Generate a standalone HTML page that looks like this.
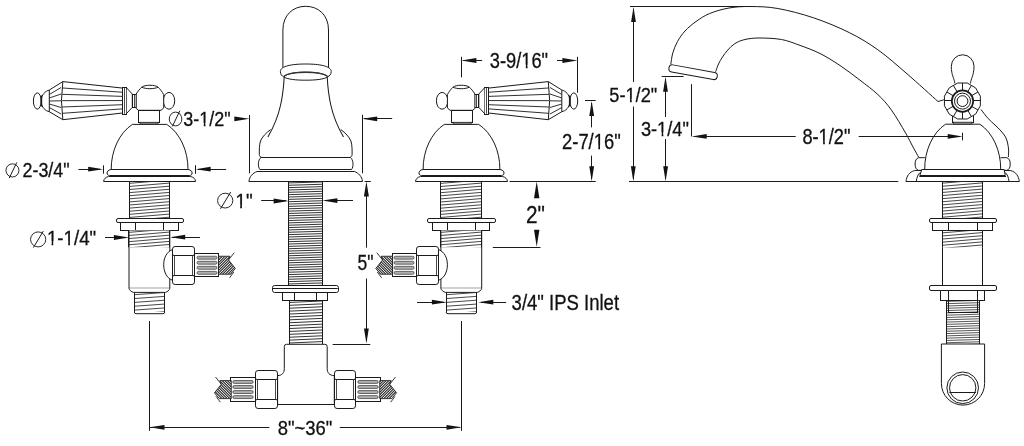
<!DOCTYPE html>
<html><head><meta charset="utf-8"><style>
html,body{margin:0;padding:0;background:#fff;width:1024px;height:446px;overflow:hidden}
svg{display:block;will-change:transform}
text{font-family:"Liberation Sans",sans-serif;fill:#111;stroke:#111;stroke-width:0.3px;font-kerning:none}
</style></head><body>
<svg width="1024" height="446" viewBox="0 0 1024 446">
<rect width="1024" height="446" fill="#fff"/>
<ellipse cx="37.3" cy="101" rx="3.9" ry="8.1" stroke="#1a1a1a" stroke-width="1" fill="#fff"/>
<path d="M49.3,90 C45.6,91 41.2,94.5 41.2,101 C41.2,107.5 45.6,111 49.3,111.7" stroke="#1a1a1a" stroke-width="1" fill="#fff" />
<line x1="41.4" y1="95.5" x2="41.4" y2="106.5" stroke="#1a1a1a" stroke-width="1.6"/>
<path d="M49.3,90 L62.8,81.6 L122.7,88.1 L122.7,113 L62.8,119.7 L49.3,111.7 Z" stroke="#1a1a1a" stroke-width="1" fill="#fff" />
<path d="M62.8,81.6 Q60.1,100.6 62.8,119.7" stroke="#1a1a1a" stroke-width="1" fill="none" />
<line x1="49.3" y1="94.5" x2="61.1" y2="87.5" stroke="#1a1a1a" stroke-width="0.9"/>
<line x1="49.3" y1="98" x2="61.1" y2="94" stroke="#1a1a1a" stroke-width="0.9"/>
<line x1="49.3" y1="101" x2="61.1" y2="100.8" stroke="#1a1a1a" stroke-width="0.9"/>
<line x1="49.3" y1="104" x2="61.1" y2="107.5" stroke="#1a1a1a" stroke-width="0.9"/>
<line x1="49.3" y1="107.5" x2="61.1" y2="114" stroke="#1a1a1a" stroke-width="0.9"/>
<line x1="62.1" y1="87.95" x2="122.7" y2="92.25" stroke="#1a1a1a" stroke-width="0.9"/>
<line x1="62.1" y1="94.3" x2="122.7" y2="96.4" stroke="#1a1a1a" stroke-width="0.9"/>
<line x1="62.1" y1="100.65" x2="122.7" y2="100.55" stroke="#1a1a1a" stroke-width="0.9"/>
<line x1="62.1" y1="107" x2="122.7" y2="104.7" stroke="#1a1a1a" stroke-width="0.9"/>
<line x1="62.1" y1="113.35" x2="122.7" y2="108.85" stroke="#1a1a1a" stroke-width="0.9"/>
<rect x="122.5" y="87.5" width="4" height="27" rx="0" stroke="#1a1a1a" stroke-width="1" fill="#fff"/>
<line x1="124.5" y1="87.6" x2="124.5" y2="113.7" stroke="#1a1a1a" stroke-width="0.8"/>
<path d="M126.7,88 L132.3,94 L132.3,107.4 L126.7,113.3" stroke="#1a1a1a" stroke-width="1" fill="#fff" />
<rect x="132.5" y="94.5" width="4" height="13" rx="0" stroke="#1a1a1a" stroke-width="1" fill="#fff"/>
<line x1="134.5" y1="94.3" x2="134.5" y2="107.1" stroke="#1a1a1a" stroke-width="0.8"/>
<ellipse cx="169" cy="100.8" rx="5.7" ry="8.4" stroke="#1a1a1a" stroke-width="1" fill="#fff"/>
<path d="M136.2,108.4 L136.2,94 C137.6,91.5 140.1,88.6 141.8,87.2 C144.6,84.6 155.1,84.6 158.1,87.2 C159.9,88.8 162.4,92 163.7,94.6 L163.7,108 L161,110.3 L138.5,110.3 Z" stroke="#1a1a1a" stroke-width="1" fill="#fff" />
<path d="M141.8,87.2 C145.6,89.2 154.1,89.2 158.1,87.2" stroke="#1a1a1a" stroke-width="1" fill="none" />
<rect x="138.5" y="110.5" width="21" height="12" rx="0" stroke="#1a1a1a" stroke-width="1" fill="#fff"/>
<rect x="140" y="122.2" width="18" height="2.2" rx="0" stroke="#1a1a1a" stroke-width="0.6" fill="#888"/>
<path d="M132.4,124.4 L166.8,124.4 A38.4,50.3 0 0,1 188,169.5 L111.2,169.5 A38.4,50.3 0 0,1 132.4,124.4 Z" stroke="#1a1a1a" stroke-width="1" fill="#fff" />
<path d="M111,169.5 L188.2,169.5 C191.1,170 192.1,171.5 192.1,173 C192.1,174.6 191.1,175.5 189.6,175.5 L109.6,175.5 C108.1,175.5 107.1,174.6 107.1,173 C107.1,171.5 108.1,170 111,169.5 Z" stroke="#1a1a1a" stroke-width="1" fill="#fff" />
<path d="M108.6,176.5 L190.6,176.5 C193.6,177.2 195.4,179 195.6,181.5 L103.6,181.5 C103.8,179 105.6,177.2 108.6,176.5 Z" stroke="#1a1a1a" stroke-width="1" fill="#fff" />
<g><clipPath id="c28"><rect x="129.1" y="181.5" width="40.7" height="36.5"/></clipPath></g>
<g clip-path="url(#c28)" stroke="#333" stroke-width="0.9"><line x1="129.1" y1="183.36" x2="169.8" y2="179.96"/><line x1="129.1" y1="186.46" x2="169.8" y2="183.06"/><line x1="129.1" y1="189.56" x2="169.8" y2="186.16"/><line x1="129.1" y1="192.66" x2="169.8" y2="189.26"/><line x1="129.1" y1="195.76" x2="169.8" y2="192.36"/><line x1="129.1" y1="198.86" x2="169.8" y2="195.46"/><line x1="129.1" y1="201.96" x2="169.8" y2="198.56"/><line x1="129.1" y1="205.06" x2="169.8" y2="201.66"/><line x1="129.1" y1="208.16" x2="169.8" y2="204.76"/><line x1="129.1" y1="211.26" x2="169.8" y2="207.86"/><line x1="129.1" y1="214.36" x2="169.8" y2="210.96"/><line x1="129.1" y1="217.46" x2="169.8" y2="214.06"/><line x1="129.1" y1="220.56" x2="169.8" y2="217.16"/><line x1="129.1" y1="223.66" x2="169.8" y2="220.26"/></g>
<line x1="129.5" y1="181.5" x2="129.5" y2="218" stroke="#1a1a1a" stroke-width="1"/>
<line x1="169.5" y1="181.5" x2="169.5" y2="218" stroke="#1a1a1a" stroke-width="1"/>
<rect x="116.5" y="218.5" width="67" height="4" rx="1.5" stroke="#1a1a1a" stroke-width="1" fill="#fff"/>
<rect x="120.5" y="222.5" width="58" height="8" rx="0" stroke="#1a1a1a" stroke-width="1" fill="#fff"/>
<line x1="135.5" y1="222" x2="135.5" y2="230.5" stroke="#1a1a1a" stroke-width="1"/>
<line x1="163.5" y1="222" x2="163.5" y2="230.5" stroke="#1a1a1a" stroke-width="1"/>
<path d="M129,230.5 L129,288.3 L169.8,288.3 L169.8,230.5" stroke="#1a1a1a" stroke-width="1" fill="#fff" />
<path d="M129,288.3 C129.2,290.2 131.6,291.8 133.4,292.4 L165.4,292.4 C167.2,291.8 169.6,290.2 169.8,288.3" stroke="#1a1a1a" stroke-width="1" fill="#fff" />
<g><clipPath id="c38"><rect x="129" y="230.5" width="40.8" height="16.7"/></clipPath></g>
<g clip-path="url(#c38)" stroke="#333" stroke-width="0.9"><line x1="129" y1="232.36" x2="169.8" y2="228.96"/><line x1="129" y1="235.46" x2="169.8" y2="232.06"/><line x1="129" y1="238.56" x2="169.8" y2="235.16"/><line x1="129" y1="241.66" x2="169.8" y2="238.26"/><line x1="129" y1="244.76" x2="169.8" y2="241.36"/><line x1="129" y1="247.86" x2="169.8" y2="244.46"/><line x1="129" y1="250.96" x2="169.8" y2="247.56"/></g>
<line x1="128.5" y1="230.5" x2="128.5" y2="247.2" stroke="#1a1a1a" stroke-width="1"/>
<line x1="169.5" y1="230.5" x2="169.5" y2="247.2" stroke="#1a1a1a" stroke-width="1"/>
<g><clipPath id="c42"><rect x="134.3" y="292.4" width="30.4" height="20.1"/></clipPath></g>
<g clip-path="url(#c42)" stroke="#333" stroke-width="0.9"><line x1="134.3" y1="294.71" x2="164.7" y2="292.51"/><line x1="134.3" y1="298.56" x2="164.7" y2="296.36"/><line x1="134.3" y1="302.41" x2="164.7" y2="300.21"/><line x1="134.3" y1="306.26" x2="164.7" y2="304.06"/><line x1="134.3" y1="310.11" x2="164.7" y2="307.91"/><line x1="134.3" y1="313.96" x2="164.7" y2="311.76"/><line x1="134.3" y1="317.81" x2="164.7" y2="315.61"/></g>
<line x1="134.5" y1="292.4" x2="134.5" y2="312.5" stroke="#1a1a1a" stroke-width="1"/>
<line x1="164.5" y1="292.4" x2="164.5" y2="312.5" stroke="#1a1a1a" stroke-width="1"/>
<path d="M134.3,312 Q134.3,313.7 136.1,313.7 L162.9,313.7 Q164.7,313.7 164.7,312" stroke="#1a1a1a" stroke-width="1" fill="#fff" />
<path d="M172,249.8 C166.6,252 163.7,258 163.7,264.8 C163.7,271.5 166.6,278 172,280" stroke="#1a1a1a" stroke-width="1" fill="#fff" />
<rect x="172.5" y="246.5" width="22" height="38" rx="2.6" stroke="#1a1a1a" stroke-width="1" fill="#fff"/>
<path d="M172.5,254.2 Q172.8,255.5 174,255.5 L193,255.5 Q194.2,255.5 194.5,254.2 M172.5,276.8 Q172.8,275.5 174,275.5 L193,275.5 Q194.2,275.5 194.5,276.8" stroke="#1a1a1a" stroke-width="1" fill="none" />
<path d="M174.5,255.5 L174.5,275.5 M192.5,255.5 L192.5,275.5" stroke="#333" stroke-width="0.9" fill="none" />
<rect x="194.5" y="253.5" width="24" height="23" rx="0" stroke="#1a1a1a" stroke-width="1" fill="#fff"/>
<rect x="197" y="256.25" width="20" height="2.9" rx="1.45" fill="#b0b0b0" stroke="#333" stroke-width="0.7"/>
<rect x="197" y="261.3" width="20" height="2.9" rx="1.45" fill="#b0b0b0" stroke="#333" stroke-width="0.7"/>
<rect x="197" y="266.35" width="20" height="2.9" rx="1.45" fill="#b0b0b0" stroke="#333" stroke-width="0.7"/>
<rect x="197" y="271.4" width="20" height="2.9" rx="1.45" fill="#b0b0b0" stroke="#333" stroke-width="0.7"/>
<clipPath id="br56"><path d="M218.5,256.25 L230,256.25 L228.5,259.95 L235.3,268.45 L230.6,274.25 L218.5,274.25 Z"/></clipPath>
<g clip-path="url(#br56)"><rect x="219" y="256.25" width="17" height="18" fill="#383838"/><g stroke="#fff" stroke-width="0.95"><line x1="192.2" y1="274.75" x2="211.2" y2="255.75"/><line x1="194.8" y1="274.75" x2="213.8" y2="255.75"/><line x1="197.4" y1="274.75" x2="216.4" y2="255.75"/><line x1="200" y1="274.75" x2="219" y2="255.75"/><line x1="202.6" y1="274.75" x2="221.6" y2="255.75"/><line x1="205.2" y1="274.75" x2="224.2" y2="255.75"/><line x1="207.8" y1="274.75" x2="226.8" y2="255.75"/><line x1="210.4" y1="274.75" x2="229.4" y2="255.75"/><line x1="213" y1="274.75" x2="232" y2="255.75"/><line x1="215.6" y1="274.75" x2="234.6" y2="255.75"/><line x1="218.2" y1="274.75" x2="237.2" y2="255.75"/><line x1="220.8" y1="274.75" x2="239.8" y2="255.75"/><line x1="223.4" y1="274.75" x2="242.4" y2="255.75"/><line x1="226" y1="274.75" x2="245" y2="255.75"/><line x1="228.6" y1="274.75" x2="247.6" y2="255.75"/><line x1="231.2" y1="274.75" x2="250.2" y2="255.75"/><line x1="233.8" y1="274.75" x2="252.8" y2="255.75"/><line x1="236.4" y1="274.75" x2="255.4" y2="255.75"/><line x1="239" y1="274.75" x2="258" y2="255.75"/><line x1="241.6" y1="274.75" x2="260.6" y2="255.75"/><line x1="244.2" y1="274.75" x2="263.2" y2="255.75"/><line x1="246.8" y1="274.75" x2="265.8" y2="255.75"/><line x1="249.4" y1="274.75" x2="268.4" y2="255.75"/><line x1="252" y1="274.75" x2="271" y2="255.75"/></g></g>
<path d="M218.5,256.25 L230,256.25 L228.5,259.95 L235.3,268.45 L230.6,274.25 L218.5,274.25 Z" stroke="#222" stroke-width="0.9" fill="none" />
<path d="M234.3,252.65 L228.5,259.95 M233.8,272.05 L229.5,277.85" stroke="#222" stroke-width="0.9" fill="none" />
<ellipse cx="573.8" cy="101" rx="3.9" ry="8.1" stroke="#1a1a1a" stroke-width="1" fill="#fff"/>
<path d="M561.8,90 C565.5,91 569.9,94.5 569.9,101 C569.9,107.5 565.5,111 561.8,111.7" stroke="#1a1a1a" stroke-width="1" fill="#fff" />
<line x1="569.7" y1="95.5" x2="569.7" y2="106.5" stroke="#1a1a1a" stroke-width="1.6"/>
<path d="M561.8,90 L548.3,81.6 L488.4,88.1 L488.4,113 L548.3,119.7 L561.8,111.7 Z" stroke="#1a1a1a" stroke-width="1" fill="#fff" />
<path d="M548.3,81.6 Q551,100.6 548.3,119.7" stroke="#1a1a1a" stroke-width="1" fill="none" />
<line x1="561.8" y1="94.5" x2="550" y2="87.5" stroke="#1a1a1a" stroke-width="0.9"/>
<line x1="561.8" y1="98" x2="550" y2="94" stroke="#1a1a1a" stroke-width="0.9"/>
<line x1="561.8" y1="101" x2="550" y2="100.8" stroke="#1a1a1a" stroke-width="0.9"/>
<line x1="561.8" y1="104" x2="550" y2="107.5" stroke="#1a1a1a" stroke-width="0.9"/>
<line x1="561.8" y1="107.5" x2="550" y2="114" stroke="#1a1a1a" stroke-width="0.9"/>
<line x1="549" y1="87.95" x2="488.4" y2="92.25" stroke="#1a1a1a" stroke-width="0.9"/>
<line x1="549" y1="94.3" x2="488.4" y2="96.4" stroke="#1a1a1a" stroke-width="0.9"/>
<line x1="549" y1="100.65" x2="488.4" y2="100.55" stroke="#1a1a1a" stroke-width="0.9"/>
<line x1="549" y1="107" x2="488.4" y2="104.7" stroke="#1a1a1a" stroke-width="0.9"/>
<line x1="549" y1="113.35" x2="488.4" y2="108.85" stroke="#1a1a1a" stroke-width="0.9"/>
<rect x="484.5" y="87.5" width="4" height="27" rx="0" stroke="#1a1a1a" stroke-width="1" fill="#fff"/>
<line x1="486.5" y1="87.6" x2="486.5" y2="113.7" stroke="#1a1a1a" stroke-width="0.8"/>
<path d="M484.4,88 L478.8,94 L478.8,107.4 L484.4,113.3" stroke="#1a1a1a" stroke-width="1" fill="#fff" />
<rect x="474.5" y="94.5" width="4" height="13" rx="0" stroke="#1a1a1a" stroke-width="1" fill="#fff"/>
<line x1="476.5" y1="94.3" x2="476.5" y2="107.1" stroke="#1a1a1a" stroke-width="0.8"/>
<ellipse cx="442.1" cy="100.8" rx="5.7" ry="8.4" stroke="#1a1a1a" stroke-width="1" fill="#fff"/>
<path d="M474.9,108.4 L474.9,94 C473.5,91.5 471,88.6 469.3,87.2 C466.5,84.6 456,84.6 453,87.2 C451.2,88.8 448.7,92 447.4,94.6 L447.4,108 L450.1,110.3 L472.6,110.3 Z" stroke="#1a1a1a" stroke-width="1" fill="#fff" />
<path d="M469.3,87.2 C465.5,89.2 457,89.2 453,87.2" stroke="#1a1a1a" stroke-width="1" fill="none" />
<rect x="451.5" y="110.5" width="21" height="12" rx="0" stroke="#1a1a1a" stroke-width="1" fill="#fff"/>
<rect x="453.1" y="122.2" width="18" height="2.2" rx="0" stroke="#1a1a1a" stroke-width="0.6" fill="#888"/>
<path d="M444.3,124.4 L478.7,124.4 A38.4,50.3 0 0,1 499.9,169.5 L423.1,169.5 A38.4,50.3 0 0,1 444.3,124.4 Z" stroke="#1a1a1a" stroke-width="1" fill="#fff" />
<path d="M422.9,169.5 L500.1,169.5 C503,170 504,171.5 504,173 C504,174.6 503,175.5 501.5,175.5 L421.5,175.5 C420,175.5 419,174.6 419,173 C419,171.5 420,170 422.9,169.5 Z" stroke="#1a1a1a" stroke-width="1" fill="#fff" />
<path d="M420.5,176.5 L502.5,176.5 C505.5,177.2 507.3,179 507.5,181.5 L415.5,181.5 C415.7,179 417.5,177.2 420.5,176.5 Z" stroke="#1a1a1a" stroke-width="1" fill="#fff" />
<g><clipPath id="c88"><rect x="441" y="181.5" width="40.7" height="36.5"/></clipPath></g>
<g clip-path="url(#c88)" stroke="#333" stroke-width="0.9"><line x1="441" y1="183.36" x2="481.7" y2="179.96"/><line x1="441" y1="186.46" x2="481.7" y2="183.06"/><line x1="441" y1="189.56" x2="481.7" y2="186.16"/><line x1="441" y1="192.66" x2="481.7" y2="189.26"/><line x1="441" y1="195.76" x2="481.7" y2="192.36"/><line x1="441" y1="198.86" x2="481.7" y2="195.46"/><line x1="441" y1="201.96" x2="481.7" y2="198.56"/><line x1="441" y1="205.06" x2="481.7" y2="201.66"/><line x1="441" y1="208.16" x2="481.7" y2="204.76"/><line x1="441" y1="211.26" x2="481.7" y2="207.86"/><line x1="441" y1="214.36" x2="481.7" y2="210.96"/><line x1="441" y1="217.46" x2="481.7" y2="214.06"/><line x1="441" y1="220.56" x2="481.7" y2="217.16"/><line x1="441" y1="223.66" x2="481.7" y2="220.26"/></g>
<line x1="440.5" y1="181.5" x2="440.5" y2="218" stroke="#1a1a1a" stroke-width="1"/>
<line x1="481.5" y1="181.5" x2="481.5" y2="218" stroke="#1a1a1a" stroke-width="1"/>
<rect x="427.5" y="218.5" width="68" height="4" rx="1.5" stroke="#1a1a1a" stroke-width="1" fill="#fff"/>
<rect x="432.5" y="222.5" width="57" height="8" rx="0" stroke="#1a1a1a" stroke-width="1" fill="#fff"/>
<line x1="447.5" y1="222" x2="447.5" y2="230.5" stroke="#1a1a1a" stroke-width="1"/>
<line x1="475.5" y1="222" x2="475.5" y2="230.5" stroke="#1a1a1a" stroke-width="1"/>
<path d="M440.9,230.5 L440.9,288.3 L481.7,288.3 L481.7,230.5" stroke="#1a1a1a" stroke-width="1" fill="#fff" />
<path d="M440.9,288.3 C441.1,290.2 443.5,291.8 445.3,292.4 L477.3,292.4 C479.1,291.8 481.5,290.2 481.7,288.3" stroke="#1a1a1a" stroke-width="1" fill="#fff" />
<g><clipPath id="c98"><rect x="440.9" y="230.5" width="40.8" height="16.7"/></clipPath></g>
<g clip-path="url(#c98)" stroke="#333" stroke-width="0.9"><line x1="440.9" y1="232.36" x2="481.7" y2="228.96"/><line x1="440.9" y1="235.46" x2="481.7" y2="232.06"/><line x1="440.9" y1="238.56" x2="481.7" y2="235.16"/><line x1="440.9" y1="241.66" x2="481.7" y2="238.26"/><line x1="440.9" y1="244.76" x2="481.7" y2="241.36"/><line x1="440.9" y1="247.86" x2="481.7" y2="244.46"/><line x1="440.9" y1="250.96" x2="481.7" y2="247.56"/></g>
<line x1="440.5" y1="230.5" x2="440.5" y2="247.2" stroke="#1a1a1a" stroke-width="1"/>
<line x1="481.5" y1="230.5" x2="481.5" y2="247.2" stroke="#1a1a1a" stroke-width="1"/>
<g><clipPath id="c102"><rect x="446.2" y="292.4" width="30.4" height="20.1"/></clipPath></g>
<g clip-path="url(#c102)" stroke="#333" stroke-width="0.9"><line x1="446.2" y1="294.71" x2="476.6" y2="292.51"/><line x1="446.2" y1="298.56" x2="476.6" y2="296.36"/><line x1="446.2" y1="302.41" x2="476.6" y2="300.21"/><line x1="446.2" y1="306.26" x2="476.6" y2="304.06"/><line x1="446.2" y1="310.11" x2="476.6" y2="307.91"/><line x1="446.2" y1="313.96" x2="476.6" y2="311.76"/><line x1="446.2" y1="317.81" x2="476.6" y2="315.61"/></g>
<line x1="446.5" y1="292.4" x2="446.5" y2="312.5" stroke="#1a1a1a" stroke-width="1"/>
<line x1="476.5" y1="292.4" x2="476.5" y2="312.5" stroke="#1a1a1a" stroke-width="1"/>
<path d="M446.2,312 Q446.2,313.7 448,313.7 L474.8,313.7 Q476.6,313.7 476.6,312" stroke="#1a1a1a" stroke-width="1" fill="#fff" />
<path d="M439.1,249.8 C444.5,252 447.4,258 447.4,264.8 C447.4,271.5 444.5,278 439.1,280" stroke="#1a1a1a" stroke-width="1" fill="#fff" />
<rect x="416.5" y="246.5" width="22" height="38" rx="2.6" stroke="#1a1a1a" stroke-width="1" fill="#fff"/>
<path d="M416.5,254.2 Q416.8,255.5 418,255.5 L437,255.5 Q438.2,255.5 438.5,254.2 M416.5,276.8 Q416.8,275.5 418,275.5 L437,275.5 Q438.2,275.5 438.5,276.8" stroke="#1a1a1a" stroke-width="1" fill="none" />
<path d="M418.5,255.5 L418.5,275.5 M436.5,255.5 L436.5,275.5" stroke="#333" stroke-width="0.9" fill="none" />
<rect x="392.5" y="253.5" width="24" height="23" rx="0" stroke="#1a1a1a" stroke-width="1" fill="#fff"/>
<rect x="394.1" y="256.25" width="20" height="2.9" rx="1.45" fill="#b0b0b0" stroke="#333" stroke-width="0.7"/>
<rect x="394.1" y="261.3" width="20" height="2.9" rx="1.45" fill="#b0b0b0" stroke="#333" stroke-width="0.7"/>
<rect x="394.1" y="266.35" width="20" height="2.9" rx="1.45" fill="#b0b0b0" stroke="#333" stroke-width="0.7"/>
<rect x="394.1" y="271.4" width="20" height="2.9" rx="1.45" fill="#b0b0b0" stroke="#333" stroke-width="0.7"/>
<clipPath id="br116"><path d="M392.6,256.25 L381.1,256.25 L382.6,259.95 L375.8,268.45 L380.5,274.25 L392.6,274.25 Z"/></clipPath>
<g clip-path="url(#br116)"><rect x="375.1" y="256.25" width="17" height="18" fill="#383838"/><g stroke="#fff" stroke-width="0.95"><line x1="418.9" y1="274.75" x2="399.9" y2="255.75"/><line x1="416.3" y1="274.75" x2="397.3" y2="255.75"/><line x1="413.7" y1="274.75" x2="394.7" y2="255.75"/><line x1="411.1" y1="274.75" x2="392.1" y2="255.75"/><line x1="408.5" y1="274.75" x2="389.5" y2="255.75"/><line x1="405.9" y1="274.75" x2="386.9" y2="255.75"/><line x1="403.3" y1="274.75" x2="384.3" y2="255.75"/><line x1="400.7" y1="274.75" x2="381.7" y2="255.75"/><line x1="398.1" y1="274.75" x2="379.1" y2="255.75"/><line x1="395.5" y1="274.75" x2="376.5" y2="255.75"/><line x1="392.9" y1="274.75" x2="373.9" y2="255.75"/><line x1="390.3" y1="274.75" x2="371.3" y2="255.75"/><line x1="387.7" y1="274.75" x2="368.7" y2="255.75"/><line x1="385.1" y1="274.75" x2="366.1" y2="255.75"/><line x1="382.5" y1="274.75" x2="363.5" y2="255.75"/><line x1="379.9" y1="274.75" x2="360.9" y2="255.75"/><line x1="377.3" y1="274.75" x2="358.3" y2="255.75"/><line x1="374.7" y1="274.75" x2="355.7" y2="255.75"/><line x1="372.1" y1="274.75" x2="353.1" y2="255.75"/><line x1="369.5" y1="274.75" x2="350.5" y2="255.75"/><line x1="366.9" y1="274.75" x2="347.9" y2="255.75"/><line x1="364.3" y1="274.75" x2="345.3" y2="255.75"/><line x1="361.7" y1="274.75" x2="342.7" y2="255.75"/><line x1="359.1" y1="274.75" x2="340.1" y2="255.75"/></g></g>
<path d="M392.6,256.25 L381.1,256.25 L382.6,259.95 L375.8,268.45 L380.5,274.25 L392.6,274.25 Z" stroke="#222" stroke-width="0.9" fill="none" />
<path d="M376.8,252.65 L382.6,259.95 M377.3,272.05 L381.6,277.85" stroke="#222" stroke-width="0.9" fill="none" />
<path d="M284.2,77 C283.6,88 282.6,96 280.6,105 C278,117 272.5,129 267.9,137.1" stroke="#1a1a1a" stroke-width="1.05" fill="none" />
<path d="M327.2,77 C327.8,88 328.8,96 330.8,105 C333.4,117 338.9,129 343.5,137.1" stroke="#1a1a1a" stroke-width="1.05" fill="none" />
<path d="M270.7,129.5 C266,133 262,137 260.5,141 C259.2,145 259.3,150 259.3,154.5 C259.3,156 260.5,157.5 262.1,157.5 L349.3,157.5 C350.9,157.5 352.1,156 352.1,154.5 C352.1,150 352.2,145 350.9,141 C349.4,137 345.4,133 340.7,129.5" stroke="#1a1a1a" stroke-width="1" fill="none" />
<path d="M261,157.5 L350.4,157.5 C353.5,159.5 353.8,167 351.5,169.5 L259.9,169.5 C257.6,167 257.9,159.5 261,157.5 Z" stroke="#1a1a1a" stroke-width="1" fill="#fff" />
<path d="M257,171.5 L354.4,171.5 C358.5,173 362,176.5 362.5,181.5 L248.9,181.5 C249.4,176.5 252.9,173 257,171.5 Z" stroke="#1a1a1a" stroke-width="1" fill="#fff" />
<path d="M282.9,68 L282.9,30 C282.9,15 293,6.3 305.7,6.3 C318.4,6.3 328.5,15 328.5,30 L328.5,68" stroke="#1a1a1a" stroke-width="1" fill="none" />
<path d="M280.4,71.5 C280.4,66 292,64 305.7,64 C319.4,64 331.2,66 331.2,71.5 C331.2,74.5 329.5,76 327.7,76.8 C324,73.5 316,72 305.7,72 C295.4,72 287.4,73.5 283.7,76.8 C281.9,76 280.4,74.5 280.4,71.5 Z" stroke="#1a1a1a" stroke-width="1" fill="#fff" />
<path d="M283.9,76.3 C287.6,73.2 295.4,72.4 305.7,72.4 C316,72.4 323.8,73.2 327.5,76.3" stroke="#333" stroke-width="1.3" fill="none" />
<path d="M283.7,76.8 C287,79.3 296,80.2 305.7,80.2 C315.4,80.2 324.4,79.3 327.7,76.8" stroke="#1a1a1a" stroke-width="1" fill="none" />
<g><clipPath id="c129"><rect x="288.9" y="181.5" width="33.5" height="104"/></clipPath></g>
<g clip-path="url(#c129)" stroke="#333" stroke-width="1"><line x1="288.9" y1="182.91" x2="322.4" y2="181.91"/><line x1="288.9" y1="185.26" x2="322.4" y2="184.26"/><line x1="288.9" y1="187.61" x2="322.4" y2="186.61"/><line x1="288.9" y1="189.96" x2="322.4" y2="188.96"/><line x1="288.9" y1="192.31" x2="322.4" y2="191.31"/><line x1="288.9" y1="194.66" x2="322.4" y2="193.66"/><line x1="288.9" y1="197.01" x2="322.4" y2="196.01"/><line x1="288.9" y1="199.36" x2="322.4" y2="198.36"/><line x1="288.9" y1="201.71" x2="322.4" y2="200.71"/><line x1="288.9" y1="204.06" x2="322.4" y2="203.06"/><line x1="288.9" y1="206.41" x2="322.4" y2="205.41"/><line x1="288.9" y1="208.76" x2="322.4" y2="207.76"/><line x1="288.9" y1="211.11" x2="322.4" y2="210.11"/><line x1="288.9" y1="213.46" x2="322.4" y2="212.46"/><line x1="288.9" y1="215.81" x2="322.4" y2="214.81"/><line x1="288.9" y1="218.16" x2="322.4" y2="217.16"/><line x1="288.9" y1="220.51" x2="322.4" y2="219.51"/><line x1="288.9" y1="222.86" x2="322.4" y2="221.86"/><line x1="288.9" y1="225.21" x2="322.4" y2="224.21"/><line x1="288.9" y1="227.56" x2="322.4" y2="226.56"/><line x1="288.9" y1="229.91" x2="322.4" y2="228.91"/><line x1="288.9" y1="232.26" x2="322.4" y2="231.26"/><line x1="288.9" y1="234.61" x2="322.4" y2="233.61"/><line x1="288.9" y1="236.96" x2="322.4" y2="235.96"/><line x1="288.9" y1="239.31" x2="322.4" y2="238.31"/><line x1="288.9" y1="241.66" x2="322.4" y2="240.66"/><line x1="288.9" y1="244.01" x2="322.4" y2="243.01"/><line x1="288.9" y1="246.36" x2="322.4" y2="245.36"/><line x1="288.9" y1="248.71" x2="322.4" y2="247.71"/><line x1="288.9" y1="251.06" x2="322.4" y2="250.06"/><line x1="288.9" y1="253.41" x2="322.4" y2="252.41"/><line x1="288.9" y1="255.76" x2="322.4" y2="254.76"/><line x1="288.9" y1="258.11" x2="322.4" y2="257.11"/><line x1="288.9" y1="260.46" x2="322.4" y2="259.46"/><line x1="288.9" y1="262.81" x2="322.4" y2="261.81"/><line x1="288.9" y1="265.16" x2="322.4" y2="264.16"/><line x1="288.9" y1="267.51" x2="322.4" y2="266.51"/><line x1="288.9" y1="269.86" x2="322.4" y2="268.86"/><line x1="288.9" y1="272.21" x2="322.4" y2="271.21"/><line x1="288.9" y1="274.56" x2="322.4" y2="273.56"/><line x1="288.9" y1="276.91" x2="322.4" y2="275.91"/><line x1="288.9" y1="279.26" x2="322.4" y2="278.26"/><line x1="288.9" y1="281.61" x2="322.4" y2="280.61"/><line x1="288.9" y1="283.96" x2="322.4" y2="282.96"/><line x1="288.9" y1="286.31" x2="322.4" y2="285.31"/><line x1="288.9" y1="288.66" x2="322.4" y2="287.66"/></g>
<line x1="288.5" y1="181.5" x2="288.5" y2="285.5" stroke="#1a1a1a" stroke-width="1"/>
<line x1="322.5" y1="181.5" x2="322.5" y2="285.5" stroke="#1a1a1a" stroke-width="1"/>
<rect x="272.5" y="285.5" width="66" height="7" rx="2.2" stroke="#1a1a1a" stroke-width="1" fill="#fff"/>
<line x1="273" y1="288.5" x2="337.7" y2="288.5" stroke="#1a1a1a" stroke-width="1"/>
<rect x="282.5" y="292.5" width="45" height="8" rx="0" stroke="#1a1a1a" stroke-width="1" fill="#fff"/>
<line x1="294.5" y1="292.2" x2="294.5" y2="300.7" stroke="#1a1a1a" stroke-width="1"/>
<line x1="316.5" y1="292.2" x2="316.5" y2="300.7" stroke="#1a1a1a" stroke-width="1"/>
<g><clipPath id="c138"><rect x="289.3" y="300.7" width="33.4" height="43.3"/></clipPath></g>
<g clip-path="url(#c138)" stroke="#333" stroke-width="1"><line x1="289.3" y1="302.44" x2="322.7" y2="300.94"/><line x1="289.3" y1="305.34" x2="322.7" y2="303.84"/><line x1="289.3" y1="308.24" x2="322.7" y2="306.74"/><line x1="289.3" y1="311.14" x2="322.7" y2="309.64"/><line x1="289.3" y1="314.04" x2="322.7" y2="312.54"/><line x1="289.3" y1="316.94" x2="322.7" y2="315.44"/><line x1="289.3" y1="319.84" x2="322.7" y2="318.34"/><line x1="289.3" y1="322.74" x2="322.7" y2="321.24"/><line x1="289.3" y1="325.64" x2="322.7" y2="324.14"/><line x1="289.3" y1="328.54" x2="322.7" y2="327.04"/><line x1="289.3" y1="331.44" x2="322.7" y2="329.94"/><line x1="289.3" y1="334.34" x2="322.7" y2="332.84"/><line x1="289.3" y1="337.24" x2="322.7" y2="335.74"/><line x1="289.3" y1="340.14" x2="322.7" y2="338.64"/><line x1="289.3" y1="343.04" x2="322.7" y2="341.54"/><line x1="289.3" y1="345.94" x2="322.7" y2="344.44"/></g>
<line x1="289.5" y1="300.7" x2="289.5" y2="344" stroke="#1a1a1a" stroke-width="1"/>
<line x1="322.5" y1="300.7" x2="322.5" y2="344" stroke="#1a1a1a" stroke-width="1"/>
<path d="M277.6,375.6 C282,375.4 284.3,373 284.3,368.5 L284.3,346.6 Q284.3,344.3 286.6,344.3 L324.9,344.3 Q327.2,344.3 327.2,346.6 L327.2,368.5 C327.2,373 329.5,375.4 334.3,375.6 L334.3,404.5 L277.6,404.5 Z" stroke="#1a1a1a" stroke-width="1" fill="#fff" />
<rect x="255.5" y="370.5" width="22" height="38" rx="2.6" stroke="#1a1a1a" stroke-width="1" fill="#fff"/>
<path d="M255.5,378.2 Q255.8,379.5 257,379.5 L276,379.5 Q277.2,379.5 277.5,378.2 M255.5,400.8 Q255.8,399.5 257,399.5 L276,399.5 Q277.2,399.5 277.5,400.8" stroke="#1a1a1a" stroke-width="1" fill="none" />
<path d="M257.5,379.5 L257.5,399.5 M275.5,379.5 L275.5,399.5" stroke="#333" stroke-width="0.9" fill="none" />
<rect x="230.5" y="377.5" width="25" height="24" rx="0" stroke="#1a1a1a" stroke-width="1" fill="#fff"/>
<rect x="232.8" y="380.5" width="20.4" height="2.9" rx="1.45" fill="#b0b0b0" stroke="#333" stroke-width="0.7"/>
<rect x="232.8" y="385.55" width="20.4" height="2.9" rx="1.45" fill="#b0b0b0" stroke="#333" stroke-width="0.7"/>
<rect x="232.8" y="390.6" width="20.4" height="2.9" rx="1.45" fill="#b0b0b0" stroke="#333" stroke-width="0.7"/>
<rect x="232.8" y="395.65" width="20.4" height="2.9" rx="1.45" fill="#b0b0b0" stroke="#333" stroke-width="0.7"/>
<clipPath id="br151"><path d="M231.3,380.6 L219.8,380.6 L221.3,384.3 L214.5,392.8 L219.2,398.6 L231.3,398.6 Z"/></clipPath>
<g clip-path="url(#br151)"><rect x="213.8" y="380.6" width="17" height="18" fill="#383838"/><g stroke="#fff" stroke-width="0.95"><line x1="257.6" y1="399.1" x2="238.6" y2="380.1"/><line x1="255" y1="399.1" x2="236" y2="380.1"/><line x1="252.4" y1="399.1" x2="233.4" y2="380.1"/><line x1="249.8" y1="399.1" x2="230.8" y2="380.1"/><line x1="247.2" y1="399.1" x2="228.2" y2="380.1"/><line x1="244.6" y1="399.1" x2="225.6" y2="380.1"/><line x1="242" y1="399.1" x2="223" y2="380.1"/><line x1="239.4" y1="399.1" x2="220.4" y2="380.1"/><line x1="236.8" y1="399.1" x2="217.8" y2="380.1"/><line x1="234.2" y1="399.1" x2="215.2" y2="380.1"/><line x1="231.6" y1="399.1" x2="212.6" y2="380.1"/><line x1="229" y1="399.1" x2="210" y2="380.1"/><line x1="226.4" y1="399.1" x2="207.4" y2="380.1"/><line x1="223.8" y1="399.1" x2="204.8" y2="380.1"/><line x1="221.2" y1="399.1" x2="202.2" y2="380.1"/><line x1="218.6" y1="399.1" x2="199.6" y2="380.1"/><line x1="216" y1="399.1" x2="197" y2="380.1"/><line x1="213.4" y1="399.1" x2="194.4" y2="380.1"/><line x1="210.8" y1="399.1" x2="191.8" y2="380.1"/><line x1="208.2" y1="399.1" x2="189.2" y2="380.1"/><line x1="205.6" y1="399.1" x2="186.6" y2="380.1"/><line x1="203" y1="399.1" x2="184" y2="380.1"/><line x1="200.4" y1="399.1" x2="181.4" y2="380.1"/><line x1="197.8" y1="399.1" x2="178.8" y2="380.1"/></g></g>
<path d="M231.3,380.6 L219.8,380.6 L221.3,384.3 L214.5,392.8 L219.2,398.6 L231.3,398.6 Z" stroke="#222" stroke-width="0.9" fill="none" />
<path d="M215.5,377 L221.3,384.3 M216,396.4 L220.3,402.2" stroke="#222" stroke-width="0.9" fill="none" />
<rect x="334.5" y="370.5" width="21" height="38" rx="2.6" stroke="#1a1a1a" stroke-width="1" fill="#fff"/>
<path d="M334.5,378.2 Q334.8,379.5 336,379.5 L354,379.5 Q355.2,379.5 355.5,378.2 M334.5,400.8 Q334.8,399.5 336,399.5 L354,399.5 Q355.2,399.5 355.5,400.8" stroke="#1a1a1a" stroke-width="1" fill="none" />
<path d="M336.5,379.5 L336.5,399.5 M353.5,379.5 L353.5,399.5" stroke="#333" stroke-width="0.9" fill="none" />
<rect x="355.5" y="377.5" width="25" height="24" rx="0" stroke="#1a1a1a" stroke-width="1" fill="#fff"/>
<rect x="357.8" y="380.5" width="20.4" height="2.9" rx="1.45" fill="#b0b0b0" stroke="#333" stroke-width="0.7"/>
<rect x="357.8" y="385.55" width="20.4" height="2.9" rx="1.45" fill="#b0b0b0" stroke="#333" stroke-width="0.7"/>
<rect x="357.8" y="390.6" width="20.4" height="2.9" rx="1.45" fill="#b0b0b0" stroke="#333" stroke-width="0.7"/>
<rect x="357.8" y="395.65" width="20.4" height="2.9" rx="1.45" fill="#b0b0b0" stroke="#333" stroke-width="0.7"/>
<clipPath id="br163"><path d="M379.7,380.6 L391.2,380.6 L389.7,384.3 L396.5,392.8 L391.8,398.6 L379.7,398.6 Z"/></clipPath>
<g clip-path="url(#br163)"><rect x="380.2" y="380.6" width="17" height="18" fill="#383838"/><g stroke="#fff" stroke-width="0.95"><line x1="353.4" y1="399.1" x2="372.4" y2="380.1"/><line x1="356" y1="399.1" x2="375" y2="380.1"/><line x1="358.6" y1="399.1" x2="377.6" y2="380.1"/><line x1="361.2" y1="399.1" x2="380.2" y2="380.1"/><line x1="363.8" y1="399.1" x2="382.8" y2="380.1"/><line x1="366.4" y1="399.1" x2="385.4" y2="380.1"/><line x1="369" y1="399.1" x2="388" y2="380.1"/><line x1="371.6" y1="399.1" x2="390.6" y2="380.1"/><line x1="374.2" y1="399.1" x2="393.2" y2="380.1"/><line x1="376.8" y1="399.1" x2="395.8" y2="380.1"/><line x1="379.4" y1="399.1" x2="398.4" y2="380.1"/><line x1="382" y1="399.1" x2="401" y2="380.1"/><line x1="384.6" y1="399.1" x2="403.6" y2="380.1"/><line x1="387.2" y1="399.1" x2="406.2" y2="380.1"/><line x1="389.8" y1="399.1" x2="408.8" y2="380.1"/><line x1="392.4" y1="399.1" x2="411.4" y2="380.1"/><line x1="395" y1="399.1" x2="414" y2="380.1"/><line x1="397.6" y1="399.1" x2="416.6" y2="380.1"/><line x1="400.2" y1="399.1" x2="419.2" y2="380.1"/><line x1="402.8" y1="399.1" x2="421.8" y2="380.1"/><line x1="405.4" y1="399.1" x2="424.4" y2="380.1"/><line x1="408" y1="399.1" x2="427" y2="380.1"/><line x1="410.6" y1="399.1" x2="429.6" y2="380.1"/><line x1="413.2" y1="399.1" x2="432.2" y2="380.1"/></g></g>
<path d="M379.7,380.6 L391.2,380.6 L389.7,384.3 L396.5,392.8 L391.8,398.6 L379.7,398.6 Z" stroke="#222" stroke-width="0.9" fill="none" />
<path d="M395.5,377 L389.7,384.3 M395,396.4 L390.7,402.2" stroke="#222" stroke-width="0.9" fill="none" />
<path d="M670.8,64.2 C671.13,62.33 671.68,56.78 672.8,53 C673.92,49.22 675.47,45.17 677.5,41.5 C679.53,37.83 681.92,34.33 685,31 C688.08,27.67 691.88,24.42 696,21.5 C700.12,18.58 704.2,15.75 709.7,13.5 C715.2,11.25 722.28,9.17 729,8 C735.72,6.83 741.85,6.42 750,6.5 C758.15,6.58 767.27,6.6 777.9,8.5 C788.53,10.4 801.9,13.88 813.8,17.9 C825.7,21.92 838.62,27.28 849.3,32.6 C859.98,37.92 868.28,42.93 877.9,49.8 C887.52,56.67 896.98,65.18 907,73.8 C917.02,82.42 932.83,96.88 938,101.5" stroke="#1a1a1a" stroke-width="1" fill="none" />
<path d="M938,101.5 L943.8,99.8" stroke="#1a1a1a" stroke-width="1" fill="none" />
<path d="M715.6,71.8 C716.08,70.5 717.35,66.47 718.5,64 C719.65,61.53 720.95,59.33 722.5,57 C724.05,54.67 725.72,52.25 727.8,50 C729.88,47.75 732.13,45.25 735,43.5 C737.87,41.75 741,40.42 745,39.5 C749,38.58 752.92,38 759,38 C765.08,38 774.67,38.27 781.5,39.5 C788.33,40.73 793.58,43.07 800,45.4 C806.42,47.73 813.33,50.15 820,53.5 C826.67,56.85 833.33,61.05 840,65.5 C846.67,69.95 853.68,75.35 860,80.2 C866.32,85.05 872.67,89.63 877.9,94.6 C883.13,99.57 886.78,103.6 891.4,110 C896.02,116.4 902,126.83 905.6,133 C909.2,139.17 910.8,142.95 913,147 C915.2,151.05 917.83,155.58 918.8,157.3" stroke="#1a1a1a" stroke-width="1" fill="none" />
<g transform="translate(693.1,72.2) rotate(10.3)"><rect x="-24.5" y="-3.6" width="49" height="7.2" rx="3.3" stroke="#1a1a1a" stroke-width="1" fill="#fff"/></g>
<path d="M981,109.5 C982.17,110.98 985.67,115.82 988,118.4 C990.33,120.98 992.83,122.9 995,125 C997.17,127.1 999.25,129 1001,131 C1002.75,133 1004.4,135 1005.5,137 C1006.6,139 1007.08,140.83 1007.6,143 C1008.12,145.17 1008.47,147.67 1008.6,150 C1008.73,152.33 1008.43,155.83 1008.4,157" stroke="#1a1a1a" stroke-width="1" fill="none" />
<path d="M924.8,157.7 L918.5,157.7 C916,158.5 915.1,161 915.1,164 C915.1,167.5 916,169.5 918.5,170.4 L924.8,170.4" stroke="#1a1a1a" stroke-width="1" fill="#fff" />
<path d="M1000.5,157.7 L1006.8,157.7 C1009.3,158.5 1010.2,161 1010.2,164 C1010.2,167.5 1009.3,169.5 1006.8,170.4 L1000.5,170.4" stroke="#1a1a1a" stroke-width="1" fill="#fff" />
<path d="M945.5,124.2 L979.9,124.2 A38,50.3 0 0,1 1000.7,169.5 L924.7,169.5 A38,50.3 0 0,1 945.5,124.2 Z" stroke="#1a1a1a" stroke-width="1" fill="#fff" />
<path d="M921.8,169.5 L1004.1,169.5 L1005.3,175.5 L919.8,175.5 Z" stroke="#1a1a1a" stroke-width="1" fill="#fff" />
<path d="M906,181.5 C906.5,176 909.5,172 914.5,170.6 L921.8,170.4 M1019.3,181.5 C1018.8,176 1015.8,172 1010.8,170.6 L1004,170.4 M906,181.5 L1019.3,181.5 M916.3,181.5 C916.8,177 918,174.5 920,172.5 M1009,181.5 C1008.5,177 1007.3,174.5 1005.3,172.5 M919.3,176.5 L1006,176.5" stroke="#1a1a1a" stroke-width="1" fill="none" />
<path d="M954.8,83.4 C954.6,79 951.3,75.5 951.3,66.4 A11.35,11.6 0 0,1 974,66.4 C974,75.5 970.7,79 970.5,83.4" stroke="#1a1a1a" stroke-width="1" fill="#fff" />
<rect x="952.5" y="114.5" width="21" height="8" rx="0" stroke="#1a1a1a" stroke-width="1" fill="#fff"/>
<rect x="953.5" y="122.1" width="18.4" height="2.1" rx="0" stroke="#1a1a1a" stroke-width="0.6" fill="#888"/>
<path d="M957.59,83.03 L949.25,87.85 L944.43,96.19 L944.43,105.81 L949.25,114.15 L957.59,118.97 L967.21,118.97 L975.55,114.15 L980.37,105.81 L980.37,96.19 L975.55,87.85 L967.21,83.03 Z" stroke="#1a1a1a" stroke-width="1" fill="#fff" />
<line x1="962.5" y1="90.6" x2="962.5" y2="83.1" stroke="#1a1a1a" stroke-width="1"/>
<line x1="957.2" y1="91.99" x2="953.45" y2="85.5" stroke="#1a1a1a" stroke-width="1"/>
<line x1="953.39" y1="95.8" x2="946.9" y2="92.05" stroke="#1a1a1a" stroke-width="1"/>
<line x1="952" y1="100.5" x2="944.5" y2="100.5" stroke="#1a1a1a" stroke-width="1"/>
<line x1="953.39" y1="106.2" x2="946.9" y2="109.95" stroke="#1a1a1a" stroke-width="1"/>
<line x1="957.2" y1="110.01" x2="953.45" y2="116.5" stroke="#1a1a1a" stroke-width="1"/>
<line x1="962.5" y1="111.4" x2="962.5" y2="118.9" stroke="#1a1a1a" stroke-width="1"/>
<line x1="967.6" y1="110.01" x2="971.35" y2="116.5" stroke="#1a1a1a" stroke-width="1"/>
<line x1="971.41" y1="106.2" x2="977.9" y2="109.95" stroke="#1a1a1a" stroke-width="1"/>
<line x1="972.8" y1="100.5" x2="980.3" y2="100.5" stroke="#1a1a1a" stroke-width="1"/>
<line x1="971.41" y1="95.8" x2="977.9" y2="92.05" stroke="#1a1a1a" stroke-width="1"/>
<line x1="967.6" y1="91.99" x2="971.35" y2="85.5" stroke="#1a1a1a" stroke-width="1"/>
<circle cx="962.5" cy="101.1" r="10.7" stroke="#1a1a1a" stroke-width="1.7" fill="#fff"/>
<circle cx="962.5" cy="101.1" r="8" stroke="#1a1a1a" stroke-width="1" fill="none"/>
<circle cx="962.5" cy="101.1" r="5.4" stroke="#1a1a1a" stroke-width="1" fill="none"/>
<g><clipPath id="c196"><rect x="942.3" y="181.3" width="40.3" height="37.6"/></clipPath></g>
<g clip-path="url(#c196)" stroke="#333" stroke-width="0.9"><line x1="942.3" y1="183.16" x2="982.6" y2="179.76"/><line x1="942.3" y1="186.26" x2="982.6" y2="182.86"/><line x1="942.3" y1="189.36" x2="982.6" y2="185.96"/><line x1="942.3" y1="192.46" x2="982.6" y2="189.06"/><line x1="942.3" y1="195.56" x2="982.6" y2="192.16"/><line x1="942.3" y1="198.66" x2="982.6" y2="195.26"/><line x1="942.3" y1="201.76" x2="982.6" y2="198.36"/><line x1="942.3" y1="204.86" x2="982.6" y2="201.46"/><line x1="942.3" y1="207.96" x2="982.6" y2="204.56"/><line x1="942.3" y1="211.06" x2="982.6" y2="207.66"/><line x1="942.3" y1="214.16" x2="982.6" y2="210.76"/><line x1="942.3" y1="217.26" x2="982.6" y2="213.86"/><line x1="942.3" y1="220.36" x2="982.6" y2="216.96"/><line x1="942.3" y1="223.46" x2="982.6" y2="220.06"/></g>
<line x1="942.5" y1="181.3" x2="942.5" y2="218.9" stroke="#1a1a1a" stroke-width="1"/>
<line x1="982.5" y1="181.3" x2="982.5" y2="218.9" stroke="#1a1a1a" stroke-width="1"/>
<rect x="929.5" y="218.5" width="67" height="4" rx="1.5" stroke="#1a1a1a" stroke-width="1" fill="#fff"/>
<rect x="932.5" y="222.5" width="60" height="8" rx="0" stroke="#1a1a1a" stroke-width="1" fill="#fff"/>
<line x1="948.5" y1="222.8" x2="948.5" y2="231" stroke="#1a1a1a" stroke-width="1"/>
<line x1="977.5" y1="222.8" x2="977.5" y2="231" stroke="#1a1a1a" stroke-width="1"/>
<g><clipPath id="c204"><rect x="942.3" y="231" width="40.3" height="16.6"/></clipPath></g>
<g clip-path="url(#c204)" stroke="#333" stroke-width="0.9"><line x1="942.3" y1="232.86" x2="982.6" y2="229.46"/><line x1="942.3" y1="235.96" x2="982.6" y2="232.56"/><line x1="942.3" y1="239.06" x2="982.6" y2="235.66"/><line x1="942.3" y1="242.16" x2="982.6" y2="238.76"/><line x1="942.3" y1="245.26" x2="982.6" y2="241.86"/><line x1="942.3" y1="248.36" x2="982.6" y2="244.96"/><line x1="942.3" y1="251.46" x2="982.6" y2="248.06"/></g>
<line x1="942.5" y1="231" x2="942.5" y2="247.6" stroke="#1a1a1a" stroke-width="1"/>
<line x1="982.5" y1="231" x2="982.5" y2="247.6" stroke="#1a1a1a" stroke-width="1"/>
<line x1="942.5" y1="247.6" x2="942.5" y2="285.4" stroke="#1a1a1a" stroke-width="1"/>
<line x1="982.5" y1="247.6" x2="982.5" y2="285.4" stroke="#1a1a1a" stroke-width="1"/>
<rect x="929.5" y="285.5" width="67" height="5" rx="1.5" stroke="#1a1a1a" stroke-width="1" fill="#fff"/>
<rect x="940.5" y="290.5" width="44" height="10" rx="0" stroke="#1a1a1a" stroke-width="1" fill="#fff"/>
<line x1="948.5" y1="291" x2="948.5" y2="300" stroke="#1a1a1a" stroke-width="1"/>
<line x1="977.5" y1="291" x2="977.5" y2="300" stroke="#1a1a1a" stroke-width="1"/>
<g><clipPath id="c214"><rect x="946.3" y="300" width="33" height="44"/></clipPath></g>
<g clip-path="url(#c214)" stroke="#444" stroke-width="0.9"><line x1="946.3" y1="301.38" x2="979.3" y2="300.38"/><line x1="946.3" y1="303.68" x2="979.3" y2="302.68"/><line x1="946.3" y1="305.98" x2="979.3" y2="304.98"/><line x1="946.3" y1="308.28" x2="979.3" y2="307.28"/><line x1="946.3" y1="310.58" x2="979.3" y2="309.58"/><line x1="946.3" y1="312.88" x2="979.3" y2="311.88"/><line x1="946.3" y1="315.18" x2="979.3" y2="314.18"/><line x1="946.3" y1="317.48" x2="979.3" y2="316.48"/><line x1="946.3" y1="319.78" x2="979.3" y2="318.78"/><line x1="946.3" y1="322.08" x2="979.3" y2="321.08"/><line x1="946.3" y1="324.38" x2="979.3" y2="323.38"/><line x1="946.3" y1="326.68" x2="979.3" y2="325.68"/><line x1="946.3" y1="328.98" x2="979.3" y2="327.98"/><line x1="946.3" y1="331.28" x2="979.3" y2="330.28"/><line x1="946.3" y1="333.58" x2="979.3" y2="332.58"/><line x1="946.3" y1="335.88" x2="979.3" y2="334.88"/><line x1="946.3" y1="338.18" x2="979.3" y2="337.18"/><line x1="946.3" y1="340.48" x2="979.3" y2="339.48"/><line x1="946.3" y1="342.78" x2="979.3" y2="341.78"/><line x1="946.3" y1="345.08" x2="979.3" y2="344.08"/></g>
<line x1="946.5" y1="300" x2="946.5" y2="344" stroke="#1a1a1a" stroke-width="1"/>
<line x1="979.5" y1="300" x2="979.5" y2="344" stroke="#1a1a1a" stroke-width="1"/>
<rect x="948.5" y="300.5" width="29" height="12" rx="0" stroke="#1a1a1a" stroke-width="1" fill="none"/>
<path d="M941.4,344 L984.6,344 L984.6,383.5 A21.6,21.6 0 0,1 941.4,383.5 Z" stroke="#1a1a1a" stroke-width="1" fill="#fff" />
<circle cx="962.7" cy="387.8" r="15.8" stroke="#1a1a1a" stroke-width="1" fill="none"/>
<circle cx="962.7" cy="387.8" r="13.2" stroke="#1a1a1a" stroke-width="1" fill="none"/>
<line x1="949.5" y1="392.5" x2="975.9" y2="392.5" stroke="#1a1a1a" stroke-width="1"/>
<text transform="translate(22.5,176.7) scale(0.8525,1)" font-size="21.00">2-3/4&quot;</text>
<text transform="translate(183.37,126.1) scale(0.8851,1)" font-size="20.29">3-1/2&quot;</text>
<rect x="199.68" y="122.83" width="4.11" height="5.17" fill="#fff"/>
<rect x="205.48" y="122.83" width="3.66" height="5.17" fill="#fff"/>
<text transform="translate(235.48,208.1) scale(0.9317,1)" font-size="20.29">1&quot;</text>
<rect x="235.85" y="204.83" width="4.33" height="5.17" fill="#fff"/>
<rect x="241.96" y="204.83" width="3.86" height="5.17" fill="#fff"/>
<text transform="translate(46.9,244.6) scale(0.9160,1)" font-size="20.43">1-1/4&quot;</text>
<rect x="47.27" y="241.31" width="4.29" height="5.19" fill="#fff"/>
<rect x="53.31" y="241.31" width="3.82" height="5.19" fill="#fff"/>
<rect x="63.9" y="241.31" width="4.29" height="5.19" fill="#fff"/>
<rect x="69.95" y="241.31" width="3.82" height="5.19" fill="#fff"/>
<text transform="translate(357.5,270.2) scale(0.8112,1)" font-size="21.57">5&quot;</text>
<text transform="translate(277.7,434.9) scale(0.8731,1)" font-size="21.14">8&quot;~36&quot;</text>
<text transform="translate(489.8,68.1) scale(0.8523,1)" font-size="21.43">3-9/16&quot;</text>
<rect x="521.63" y="64.65" width="4.18" height="5.35" fill="#fff"/>
<rect x="527.54" y="64.65" width="3.73" height="5.35" fill="#fff"/>
<text transform="translate(562.08,148.9) scale(0.8296,1)" font-size="22.14">2-7/16&quot;</text>
<rect x="594.09" y="145.33" width="4.21" height="5.47" fill="#fff"/>
<rect x="600.02" y="145.33" width="3.75" height="5.47" fill="#fff"/>
<text transform="translate(526.06,222.9) scale(0.8760,1)" font-size="23.71">2&quot;</text>
<text transform="translate(511.59,309.6) scale(0.8535,1)" font-size="21.71">3/4&quot; IPS Inlet</text>
<text transform="translate(609.27,101.9) scale(0.8983,1)" font-size="20.29">5-1/2&quot;</text>
<rect x="625.83" y="98.63" width="4.17" height="5.17" fill="#fff"/>
<rect x="631.72" y="98.63" width="3.72" height="5.17" fill="#fff"/>
<text transform="translate(640.91,135.5) scale(0.8976,1)" font-size="20.29">3-1/4&quot;</text>
<rect x="657.45" y="132.23" width="4.17" height="5.17" fill="#fff"/>
<rect x="663.34" y="132.23" width="3.72" height="5.17" fill="#fff"/>
<text transform="translate(802.41,144) scale(0.8554,1)" font-size="21.29">8-1/2&quot;</text>
<rect x="818.95" y="140.57" width="4.17" height="5.33" fill="#fff"/>
<rect x="824.84" y="140.57" width="3.72" height="5.33" fill="#fff"/>
<ellipse cx="12.45" cy="170.4" rx="6.5" ry="6.6" stroke="#2a2a2a" stroke-width="1" fill="none"/>
<line x1="9.2" y1="178.1" x2="16.8" y2="162.4" stroke="#1a1a1a" stroke-width="1"/>
<line x1="78.4" y1="169.5" x2="100" y2="169.5" stroke="#1a1a1a" stroke-width="1"/>
<path d="M103.2,169.2 L88.2,171.6 L88.2,166.8 Z" fill="#111" stroke="none"/>
<line x1="103.5" y1="165.3" x2="103.5" y2="173.7" stroke="#1a1a1a" stroke-width="1"/>
<line x1="226.2" y1="169.5" x2="198" y2="169.5" stroke="#1a1a1a" stroke-width="1"/>
<path d="M195.6,169.2 L210.6,166.8 L210.6,171.6 Z" fill="#111" stroke="none"/>
<line x1="195.5" y1="165.2" x2="195.5" y2="173.8" stroke="#1a1a1a" stroke-width="1"/>
<ellipse cx="175.55" cy="119" rx="6.3" ry="6.9" stroke="#2a2a2a" stroke-width="1" fill="none"/>
<line x1="172.4" y1="126.4" x2="179.8" y2="110.8" stroke="#1a1a1a" stroke-width="1"/>
<path d="M249.3,118.8 L234.3,121.2 L234.3,116.4 Z" fill="#111" stroke="none"/>
<line x1="249.5" y1="115" x2="249.5" y2="173.3" stroke="#1a1a1a" stroke-width="1"/>
<line x1="392.2" y1="118.5" x2="364" y2="118.5" stroke="#1a1a1a" stroke-width="1"/>
<path d="M362.2,118.8 L377.2,116.4 L377.2,121.2 Z" fill="#111" stroke="none"/>
<line x1="362.5" y1="114.7" x2="362.5" y2="173.3" stroke="#1a1a1a" stroke-width="1"/>
<ellipse cx="225.2" cy="200.6" rx="7.6" ry="7.4" stroke="#2a2a2a" stroke-width="1" fill="none"/>
<line x1="220.5" y1="208.8" x2="230.7" y2="192" stroke="#1a1a1a" stroke-width="1"/>
<line x1="261.2" y1="200.5" x2="286" y2="200.5" stroke="#1a1a1a" stroke-width="1"/>
<path d="M288.6,201 L273.6,203.4 L273.6,198.6 Z" fill="#111" stroke="none"/>
<line x1="353" y1="200.5" x2="325" y2="200.5" stroke="#1a1a1a" stroke-width="1"/>
<path d="M322.4,200.6 L337.4,198.2 L337.4,203 Z" fill="#111" stroke="none"/>
<ellipse cx="38.15" cy="239.4" rx="7.6" ry="7.5" stroke="#2a2a2a" stroke-width="1" fill="none"/>
<line x1="33.4" y1="247.6" x2="43.3" y2="231.1" stroke="#1a1a1a" stroke-width="1"/>
<line x1="105" y1="237.5" x2="126" y2="237.5" stroke="#1a1a1a" stroke-width="1"/>
<path d="M128.9,237.5 L113.9,239.9 L113.9,235.1 Z" fill="#111" stroke="none"/>
<line x1="200" y1="237.5" x2="172" y2="237.5" stroke="#1a1a1a" stroke-width="1"/>
<path d="M170.2,237.2 L185.2,234.8 L185.2,239.6 Z" fill="#111" stroke="none"/>
<line x1="364.6" y1="181.5" x2="370.8" y2="181.5" stroke="#1a1a1a" stroke-width="1"/>
<path d="M366.4,181.6 L368.9,196.6 L363.9,196.6 Z" fill="#111" stroke="none"/>
<line x1="366.5" y1="184" x2="366.5" y2="247.7" stroke="#1a1a1a" stroke-width="1"/>
<line x1="366.5" y1="278.5" x2="366.5" y2="341" stroke="#1a1a1a" stroke-width="1"/>
<path d="M366.4,343.6 L364,328.6 L368.8,328.6 Z" fill="#111" stroke="none"/>
<line x1="332.7" y1="344.5" x2="370.3" y2="344.5" stroke="#1a1a1a" stroke-width="1"/>
<line x1="149.5" y1="321" x2="149.5" y2="430.9" stroke="#1a1a1a" stroke-width="1"/>
<line x1="461.5" y1="321" x2="461.5" y2="430.9" stroke="#1a1a1a" stroke-width="1"/>
<path d="M149.5,427.3 L164.5,424.9 L164.5,429.7 Z" fill="#111" stroke="none"/>
<line x1="150" y1="427.5" x2="269.4" y2="427.5" stroke="#1a1a1a" stroke-width="1"/>
<path d="M461.5,427.3 L446.5,429.7 L446.5,424.9 Z" fill="#111" stroke="none"/>
<line x1="339.8" y1="427.5" x2="460" y2="427.5" stroke="#1a1a1a" stroke-width="1"/>
<line x1="461.5" y1="56.8" x2="461.5" y2="77.4" stroke="#1a1a1a" stroke-width="1"/>
<path d="M461.4,60.5 L476.4,58.1 L476.4,62.9 Z" fill="#111" stroke="none"/>
<line x1="463" y1="60.5" x2="482.2" y2="60.5" stroke="#1a1a1a" stroke-width="1"/>
<line x1="577.5" y1="56.8" x2="577.5" y2="92.7" stroke="#1a1a1a" stroke-width="1"/>
<path d="M577.4,60.5 L562.4,62.9 L562.4,58.1 Z" fill="#111" stroke="none"/>
<line x1="557" y1="60.5" x2="575" y2="60.5" stroke="#1a1a1a" stroke-width="1"/>
<line x1="585" y1="100.5" x2="595.7" y2="100.5" stroke="#1a1a1a" stroke-width="1"/>
<path d="M591.7,100.9 L594.1,115.9 L589.3,115.9 Z" fill="#111" stroke="none"/>
<line x1="591.5" y1="103" x2="591.5" y2="127.4" stroke="#1a1a1a" stroke-width="1"/>
<line x1="591.5" y1="155.6" x2="591.5" y2="179" stroke="#1a1a1a" stroke-width="1"/>
<path d="M591.7,181.2 L589.3,166.2 L594.1,166.2 Z" fill="#111" stroke="none"/>
<line x1="509.6" y1="181.5" x2="595.7" y2="181.5" stroke="#1a1a1a" stroke-width="1"/>
<path d="M536.7,181.6 L539.4,198.2 L534,198.2 Z" fill="#111" stroke="none"/>
<path d="M536.7,246.8 L534,229.8 L539.4,229.8 Z" fill="#111" stroke="none"/>
<line x1="492.8" y1="247.5" x2="540.5" y2="247.5" stroke="#1a1a1a" stroke-width="1"/>
<line x1="417" y1="302.5" x2="444" y2="302.5" stroke="#1a1a1a" stroke-width="1"/>
<path d="M446.9,302.2 L431.9,304.6 L431.9,299.8 Z" fill="#111" stroke="none"/>
<line x1="506.2" y1="302.5" x2="481" y2="302.5" stroke="#1a1a1a" stroke-width="1"/>
<path d="M478.3,302.2 L493.3,299.8 L493.3,304.6 Z" fill="#111" stroke="none"/>
<line x1="630" y1="6.5" x2="750" y2="6.5" stroke="#1a1a1a" stroke-width="1"/>
<path d="M633.5,7.1 L635.9,22.1 L631.1,22.1 Z" fill="#111" stroke="none"/>
<line x1="633.5" y1="9" x2="633.5" y2="82" stroke="#1a1a1a" stroke-width="1"/>
<line x1="633.5" y1="106.5" x2="633.5" y2="179" stroke="#1a1a1a" stroke-width="1"/>
<path d="M633.3,181.2 L630.9,166.2 L635.7,166.2 Z" fill="#111" stroke="none"/>
<line x1="661.7" y1="76.5" x2="683.6" y2="76.5" stroke="#1a1a1a" stroke-width="1"/>
<path d="M665.5,76.7 L667.9,91.7 L663.1,91.7 Z" fill="#111" stroke="none"/>
<line x1="665.5" y1="79" x2="665.5" y2="117" stroke="#1a1a1a" stroke-width="1"/>
<line x1="665.5" y1="139" x2="665.5" y2="179" stroke="#1a1a1a" stroke-width="1"/>
<path d="M665.6,181.2 L663.2,166.2 L668,166.2 Z" fill="#111" stroke="none"/>
<line x1="691.5" y1="84.2" x2="691.5" y2="136.4" stroke="#1a1a1a" stroke-width="1"/>
<path d="M691.7,136.4 L706.7,134 L706.7,138.8 Z" fill="#111" stroke="none"/>
<line x1="694" y1="136.5" x2="795.7" y2="136.5" stroke="#1a1a1a" stroke-width="1"/>
<line x1="858.7" y1="136.5" x2="960" y2="136.5" stroke="#1a1a1a" stroke-width="1"/>
<path d="M962.7,136.4 L947.7,138.8 L947.7,134 Z" fill="#111" stroke="none"/>
<line x1="962.5" y1="132.8" x2="962.5" y2="140.3" stroke="#1a1a1a" stroke-width="1"/>
<line x1="629" y1="181.5" x2="898.3" y2="181.5" stroke="#1a1a1a" stroke-width="1"/>
</svg>
</body></html>
